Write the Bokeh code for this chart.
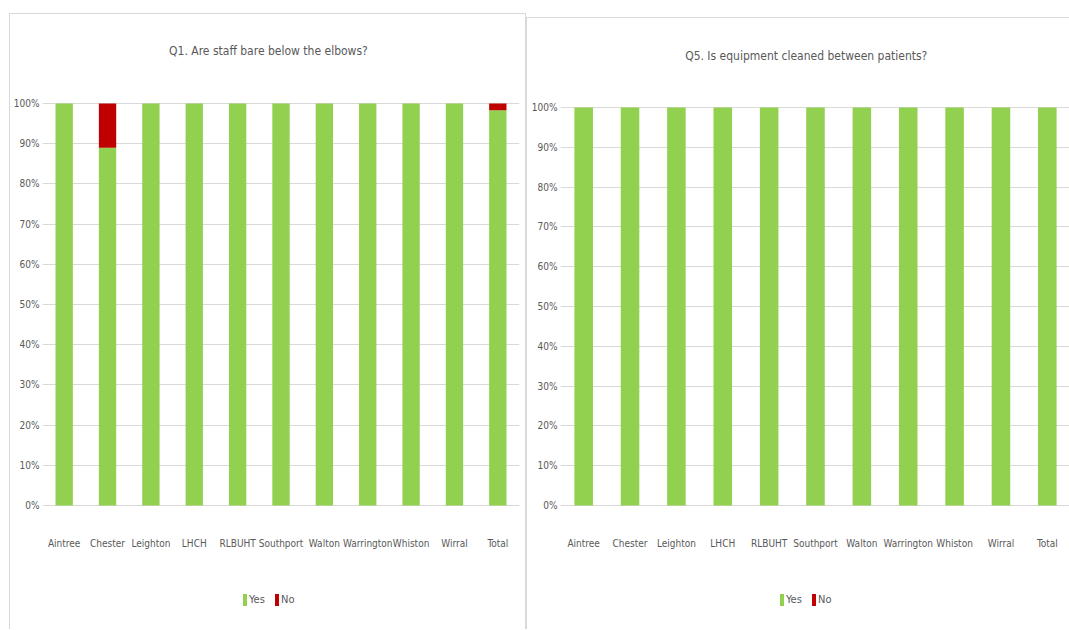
from bokeh.plotting import figure
from bokeh.layouts import row, column
from bokeh.models import (ColumnDataSource, FactorRange, Range1d, NumeralTickFormatter,
                          FixedTicker, Legend, LegendItem, Label)
from bokeh.core.properties import value
from bokeh.embed import file_html
from bokeh.resources import INLINE

categories = ["Aintree", "Chester", "Leighton", "LHCH", "RLBUHT", "Southport",
              "Walton", "Warrington", "Whiston", "Wirral", "Total"]
q1_yes = [1.0, 0.89, 1.0, 1.0, 1.0, 1.0, 1.0, 1.0, 1.0, 1.0, 0.983]
q1_no = [0.0, 0.11, 0.0, 0.0, 0.0, 0.0, 0.0, 0.0, 0.0, 0.0, 0.017]
q5_yes = [1.0, 1.0, 1.0, 1.0, 1.0, 1.0, 1.0, 1.0, 1.0, 1.0, 1.0]
q5_no = [0.0, 0.0, 0.0, 0.0, 0.0, 0.0, 0.0, 0.0, 0.0, 0.0, 0.0]
y_ticks = [0.0, 0.1, 0.2, 0.3, 0.4, 0.5, 0.6, 0.7, 0.8, 0.9, 1.0]
titles = ["Q1. Are staff bare below the elbows?", "Q5. Is equipment cleaned between patients?"]
series_names = ["Yes", "No"]

GREEN = "#92D050"
RED = "#C00000"
GRID = "#D9D9D9"
TXT = "#595959"
FONT = "DejaVu Sans Condensed"


def make_chart(title, yes, no, frame_w, frame_h, mb_left, mb_right, y_lo, y_hi,
               title_x, title_y, label_y, legend_x, legend_y):
    src = ColumnDataSource(dict(cat=categories, yes=yes, no=no))
    p = figure(x_range=FactorRange(*categories, range_padding=0.0),
               y_range=Range1d(y_lo, y_hi), frame_width=frame_w, frame_height=frame_h,
               output_backend="svg", toolbar_location=None,
               min_border_left=mb_left, min_border_right=mb_right,
               min_border_top=0, min_border_bottom=0)
    rs = p.vbar_stack(["yes", "no"], x="cat", width=0.4, color=[GREEN, RED],
                      line_color=None, source=src)

    # category labels under the bars
    p.text(x=categories, y=[label_y] * len(categories), text=categories,
           text_align="center", text_baseline="middle",
           text_font=value(FONT), text_font_size="10px", text_color=TXT)

    # chart title
    p.add_layout(Label(x=title_x, y=title_y, text=title,
                       text_align="center", text_baseline="middle",
                       text_font=FONT, text_font_size="12px", text_color=TXT))

    p.outline_line_color = None
    p.background_fill_color = "white"
    p.border_fill_color = "white"

    p.xgrid.grid_line_color = None
    p.ygrid.grid_line_color = GRID
    p.ygrid.grid_line_width = 1
    p.ygrid.ticker = FixedTicker(ticks=y_ticks)

    p.yaxis.ticker = FixedTicker(ticks=y_ticks)
    p.yaxis.formatter = NumeralTickFormatter(format="0%")
    p.yaxis.axis_line_color = None
    p.yaxis.major_tick_line_color = None
    p.yaxis.minor_tick_line_color = None
    p.yaxis.major_tick_out = 0
    p.yaxis.major_label_standoff = 3
    p.yaxis.major_label_text_font = FONT
    p.yaxis.major_label_text_font_size = "10px"
    p.yaxis.major_label_text_color = TXT

    p.xaxis.visible = False

    legend = Legend(items=[LegendItem(label=series_names[0], renderers=[rs[0]]),
                           LegendItem(label=series_names[1], renderers=[rs[1]])],
                    orientation="horizontal", location=(legend_x, legend_y),
                    glyph_width=5, glyph_height=15, label_standoff=2, spacing=5,
                    padding=2, margin=0, border_line_color=None,
                    background_fill_alpha=0,
                    label_text_font=FONT, label_text_font_size="11px",
                    label_text_color=TXT)
    p.add_layout(legend, "center")
    return p


# left: 0% at y=505px, 100% at y=103px, frame 14..629px
p1 = make_chart(titles[0], q1_yes, q1_no, frame_w=477, frame_h=615,
                mb_left=30, mb_right=6, y_lo=-124 / 402, y_hi=491 / 402,
                title_x=5.21, title_y=455 / 402, label_y=-38 / 402,
                legend_x=200, legend_y=22)
# right: 0% at y=505px, 100% at y=107px, frame 18..629px
p2 = make_chart(titles[1], q5_yes, q5_no, frame_w=510, frame_h=611,
                mb_left=33, mb_right=0, y_lo=-124 / 398, y_hi=487 / 398,
                title_x=5.3, title_y=450 / 398, label_y=-38 / 398,
                legend_x=219, legend_y=22)

c1 = column(p1)
c1.margin = (13, 0, 0, 9)
c1.styles = {"border-top": "1px solid #D9D9D9", "border-left": "1px solid #D9D9D9",
             "border-right": "1px solid #D9D9D9"}
c2 = column(p2)
c2.margin = (17, 0, 0, 0)
c2.styles = {"border-top": "1px solid #D9D9D9", "border-left": "1px solid #D9D9D9"}

layout = row(c1, c2)
layout.spacing = 0
open("out.html", "w").write(file_html(layout, INLINE))
